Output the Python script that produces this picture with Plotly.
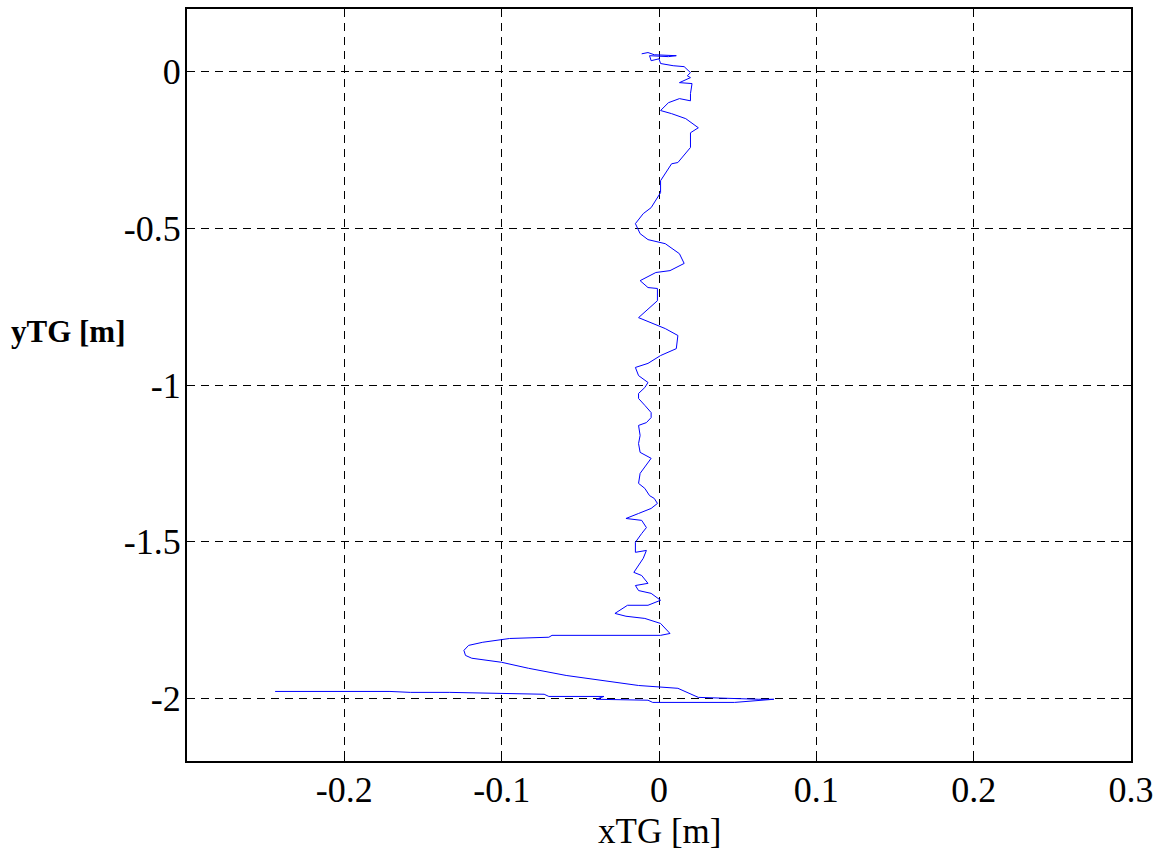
import plotly.graph_objects as go

# Trajectory of TG (metres)
xTG = [-0.011, -0.007, -0.003, 0.011, 0.006, -0.006, -0.005, 0.000, 0.001, 0.009,
       0.016, 0.020, 0.018, 0.020, 0.013, 0.021, 0.020, 0.020, 0.013, 0.006,
       0.001, 0.008, 0.017, 0.025, 0.020, 0.020, 0.012, 0.008, 0.001, 0.001,
       -0.005, -0.010, -0.015, -0.012, -0.007, 0.004, 0.013, 0.016, 0.007, -0.002,
       -0.012, -0.007, -0.001, -0.001, -0.013, -0.005, 0.004, 0.012, 0.011, 0.001,
       -0.007, -0.015, -0.013, -0.007, -0.009, -0.013, -0.013, -0.009, -0.005, -0.005,
       -0.008, -0.013, -0.012, -0.013, -0.012, -0.005, -0.009, -0.012, -0.013, -0.009,
       -0.006, -0.003, -0.001, -0.005, -0.013, -0.021, -0.011, -0.008, -0.011, -0.015,
       -0.015, -0.008, -0.010, -0.016, -0.011, -0.007, -0.015, -0.013, -0.005, 0.001,
       -0.007, -0.020, -0.028, -0.021, -0.009, 0.001, 0.007, 0.001, -0.068, -0.070,
       -0.095, -0.112, -0.121, -0.124, -0.123, -0.119, -0.100, -0.083, -0.059, -0.037,
       -0.013, 0.012, 0.025, 0.063, 0.073, 0.048, -0.004, -0.007, -0.040, -0.035,
       -0.070, -0.073, -0.104, -0.133, -0.158, -0.171, -0.244]
yTG = [0.057, 0.061, 0.054, 0.051, 0.048, 0.051, 0.035, 0.041, 0.026, 0.019,
       0.016, -0.003, -0.013, -0.019, -0.035, -0.038, -0.070, -0.093, -0.086, -0.099,
       -0.124, -0.134, -0.150, -0.179, -0.195, -0.242, -0.290, -0.294, -0.348, -0.386,
       -0.434, -0.453, -0.485, -0.517, -0.536, -0.549, -0.581, -0.612, -0.635, -0.641,
       -0.667, -0.689, -0.692, -0.731, -0.785, -0.801, -0.820, -0.842, -0.884, -0.906,
       -0.931, -0.944, -0.970, -0.992, -1.008, -1.027, -1.043, -1.065, -1.088, -1.104,
       -1.120, -1.129, -1.161, -1.187, -1.215, -1.234, -1.263, -1.282, -1.314, -1.330,
       -1.353, -1.362, -1.378, -1.394, -1.410, -1.426, -1.432, -1.455, -1.474, -1.502,
       -1.534, -1.528, -1.553, -1.598, -1.608, -1.633, -1.640, -1.656, -1.665, -1.687,
       -1.703, -1.703, -1.729, -1.738, -1.745, -1.761, -1.793, -1.799, -1.799, -1.805,
       -1.809, -1.821, -1.831, -1.847, -1.863, -1.872, -1.885, -1.904, -1.927, -1.943,
       -1.959, -1.968, -1.997, -2.003, -2.003, -2.013, -2.013, -2.006, -2.003, -1.994,
       -1.994, -1.987, -1.984, -1.981, -1.981, -1.978, -1.978]

x_ticks = [-0.2, -0.1, 0, 0.1, 0.2, 0.3]
x_ticktext = ["-0.2", "-0.1", "0", "0.1", "0.2", "0.3"]
y_ticks = [-2, -1.5, -1, -0.5, 0]
y_ticktext = ["-2", "-1.5", "-1", "-0.5", "0"]

FONT = "Liberation Serif, Times New Roman, serif"

fig = go.Figure()
fig.add_trace(go.Scatter(x=xTG, y=yTG, mode="lines",
                         line=dict(color="#0000ff", width=1), showlegend=False))

axis_common = dict(
    showline=True, linecolor="black", linewidth=2, mirror="ticks",
    ticks="inside", ticklen=8, tickcolor="black", tickwidth=1,
    showgrid=True, gridcolor="black", gridwidth=1, griddash="8px,6px",
    zeroline=False,
    tickfont=dict(family=FONT, size=36, color="black"),
)

fig.update_xaxes(range=[-0.3, 0.3], tickvals=x_ticks, ticktext=x_ticktext,
                 ticklabelstandoff=-4, **axis_common)
fig.update_yaxes(range=[-2.2, 0.2], tickvals=y_ticks, ticktext=y_ticktext,
                 ticklabelstandoff=-3, **axis_common)

fig.update_layout(
    width=1161, height=852,
    margin=dict(l=187, r=24, t=7, b=91),
    plot_bgcolor="white", paper_bgcolor="white",
    font=dict(family=FONT, color="black"),
    annotations=[
        dict(text="xTG [m]", xref="paper", yref="paper", x=0.5, y=-0.094,
             xanchor="center", yanchor="middle", showarrow=False,
             font=dict(family=FONT, size=35, color="black")),
        dict(text="<b>yTG [m]</b>", xref="paper", yref="paper", x=-0.1253, y=0.5716,
             xanchor="center", yanchor="middle", showarrow=False,
             font=dict(family=FONT, size=31, color="black")),
    ],
)

fig.write_html("out.html", config={"displayModeBar": False},
               post_script="document.body.style.margin='0';document.body.style.overflow='hidden';")
